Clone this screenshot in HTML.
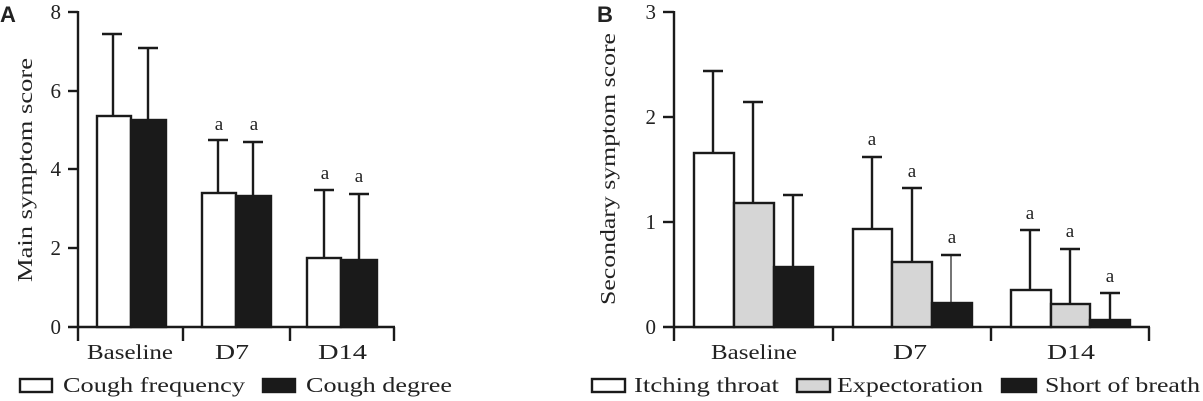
<!DOCTYPE html>
<html><head><meta charset="utf-8"><style>
html,body{margin:0;padding:0;background:#fff;}
svg{display:block;}
text{font-family:"Liberation Serif",serif;fill:#222;}
</style></head><body>
<svg width="1203" height="401" viewBox="0 0 1203 401" xmlns="http://www.w3.org/2000/svg">
<g stroke="#1a1a1a" stroke-width="2.4" fill="none">
<line x1="78" y1="11" x2="78" y2="341"/>
<line x1="68" y1="327" x2="395" y2="327"/>
<line x1="68" y1="12" x2="78" y2="12"/>
<line x1="68" y1="91" x2="78" y2="91"/>
<line x1="68" y1="169" x2="78" y2="169"/>
<line x1="68" y1="248" x2="78" y2="248"/>
<line x1="183" y1="327" x2="183" y2="341"/>
<line x1="290" y1="327" x2="290" y2="341"/>
<line x1="394" y1="327" x2="394" y2="341"/>
<line x1="113" y1="116" x2="113" y2="34"/><line x1="102" y1="34" x2="122" y2="34"/>
<line x1="148" y1="120" x2="148" y2="48"/><line x1="138" y1="48" x2="158" y2="48"/>
<line x1="218" y1="193" x2="218" y2="140"/><line x1="208" y1="140" x2="228" y2="140"/>
<line x1="253" y1="196" x2="253" y2="142"/><line x1="243" y1="142" x2="263" y2="142"/>
<line x1="324" y1="258" x2="324" y2="190"/><line x1="314" y1="190" x2="334" y2="190"/>
<line x1="359" y1="260" x2="359" y2="194"/><line x1="349" y1="194" x2="369" y2="194"/>
<rect x="97" y="116" width="34" height="211" fill="#fff"/>
<rect x="131" y="120" width="35" height="207" fill="#1a1a1a"/>
<rect x="202" y="193" width="34" height="134" fill="#fff"/>
<rect x="236" y="196" width="35" height="131" fill="#1a1a1a"/>
<rect x="307" y="258" width="34" height="69" fill="#fff"/>
<rect x="341" y="260" width="36" height="67" fill="#1a1a1a"/>
<rect x="20" y="379" width="32" height="13" fill="#fff"/>
<rect x="263" y="379" width="32" height="13" fill="#1a1a1a"/>

<line x1="674" y1="11" x2="674" y2="341"/>
<line x1="663" y1="327" x2="1150" y2="327"/>
<line x1="663" y1="12" x2="674" y2="12"/>
<line x1="663" y1="117" x2="674" y2="117"/>
<line x1="663" y1="222" x2="674" y2="222"/>
<line x1="833" y1="327" x2="833" y2="341"/>
<line x1="991" y1="327" x2="991" y2="341"/>
<line x1="1149" y1="327" x2="1149" y2="341"/>
<line x1="713" y1="153" x2="713" y2="71"/><line x1="703" y1="71" x2="723" y2="71"/>
<line x1="753" y1="203" x2="753" y2="102"/><line x1="743" y1="102" x2="763" y2="102"/>
<line x1="793" y1="267" x2="793" y2="195"/><line x1="783" y1="195" x2="803" y2="195"/>
<line x1="872" y1="229" x2="872" y2="157"/><line x1="862" y1="157" x2="882" y2="157"/>
<line x1="912" y1="262" x2="912" y2="188"/><line x1="902" y1="188" x2="922" y2="188"/>
<line x1="951" y1="303" x2="951" y2="255" stroke-width="1.2"/><line x1="941" y1="255" x2="961" y2="255"/>
<line x1="1030" y1="290" x2="1030" y2="230"/><line x1="1020" y1="230" x2="1040" y2="230"/>
<line x1="1070" y1="304" x2="1070" y2="249"/><line x1="1060" y1="249" x2="1080" y2="249"/>
<line x1="1110" y1="320" x2="1110" y2="293"/><line x1="1100" y1="293" x2="1120" y2="293"/>
<rect x="694" y="153" width="40" height="174" fill="#fff"/>
<rect x="734" y="203" width="40" height="124" fill="#d6d6d6"/>
<rect x="774" y="267" width="39" height="60" fill="#1a1a1a"/>
<rect x="853" y="229" width="39" height="98" fill="#fff"/>
<rect x="892" y="262" width="40" height="65" fill="#d6d6d6"/>
<rect x="932" y="303" width="40" height="24" fill="#1a1a1a"/>
<rect x="1011" y="290" width="40" height="37" fill="#fff"/>
<rect x="1051" y="304" width="39" height="23" fill="#d6d6d6"/>
<rect x="1090" y="320" width="40" height="7" fill="#1a1a1a"/>
<rect x="592" y="379" width="33" height="13" fill="#fff"/>
<rect x="797" y="379" width="33" height="13" fill="#d6d6d6"/>
<rect x="1002" y="379" width="34" height="13" fill="#1a1a1a"/>
</g>

<text x="0" y="22" style="font-family:'Liberation Sans',sans-serif;font-weight:bold;font-size:22px">A</text>
<text x="597" y="22" style="font-family:'Liberation Sans',sans-serif;font-weight:bold;font-size:22px">B</text>

<g font-size="21" text-anchor="end">
<text x="61" y="19">8</text><text x="61" y="98">6</text><text x="61" y="176">4</text><text x="61" y="255">2</text><text x="61" y="334">0</text>
</g>
<text transform="translate(32,170) rotate(-90)" font-size="21" text-anchor="middle" textLength="224" lengthAdjust="spacingAndGlyphs">Main symptom score</text>
<g font-size="21">
<text x="87" y="359" textLength="86" lengthAdjust="spacingAndGlyphs">Baseline</text>
<text x="215" y="359" textLength="34" lengthAdjust="spacingAndGlyphs">D7</text>
<text x="318" y="359" textLength="49" lengthAdjust="spacingAndGlyphs">D14</text>
<text x="63" y="392" textLength="182" lengthAdjust="spacingAndGlyphs">Cough frequency</text>
<text x="306" y="392" textLength="146" lengthAdjust="spacingAndGlyphs">Cough degree</text>
</g>
<g font-size="19" text-anchor="middle">
<text x="219" y="130">a</text><text x="254" y="130">a</text>
<text x="325" y="179">a</text><text x="359" y="182">a</text>
</g>

<g font-size="21" text-anchor="end">
<text x="656" y="19">3</text><text x="656" y="124">2</text><text x="656" y="229">1</text><text x="656" y="334">0</text>
</g>
<text transform="translate(615,169) rotate(-90)" font-size="21" text-anchor="middle" textLength="272" lengthAdjust="spacingAndGlyphs">Secondary symptom score</text>
<g font-size="21">
<text x="711" y="359" textLength="86" lengthAdjust="spacingAndGlyphs">Baseline</text>
<text x="893" y="359" textLength="34" lengthAdjust="spacingAndGlyphs">D7</text>
<text x="1047" y="359" textLength="48" lengthAdjust="spacingAndGlyphs">D14</text>
<text x="634" y="392" textLength="145" lengthAdjust="spacingAndGlyphs">Itching throat</text>
<text x="837" y="392" textLength="146" lengthAdjust="spacingAndGlyphs">Expectoration</text>
<text x="1045" y="392" textLength="155" lengthAdjust="spacingAndGlyphs">Short of breath</text>
</g>
<g font-size="19" text-anchor="middle">
<text x="872" y="145">a</text><text x="912" y="177">a</text><text x="952" y="243">a</text>
<text x="1030" y="219">a</text><text x="1070" y="237">a</text><text x="1110" y="282">a</text>
</g>
</svg>
</body></html>
